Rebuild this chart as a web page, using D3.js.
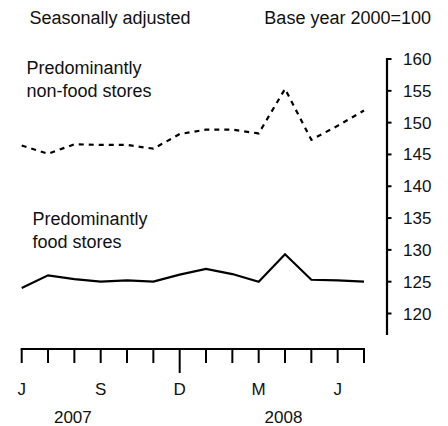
<!DOCTYPE html>
<html><head><meta charset="utf-8">
<script src="https://cdn.jsdelivr.net/npm/d3@7"></script>
<style>body{margin:0;background:#fff}svg{display:block}text{font-family:"Liberation Sans",Arial,sans-serif;fill:#111}</style>
</head><body>
<script>
const months = ["Jun 2007","Jul 2007","Aug 2007","Sep 2007","Oct 2007","Nov 2007","Dec 2007","Jan 2008","Feb 2008","Mar 2008","Apr 2008","May 2008","Jun 2008","Jul 2008"];
const monthLabels = ["J","","","S","","","D","","","M","","","J",""];
const nonFood = [146.4,145.1,146.6,146.5,146.5,145.9,148.2,148.9,148.9,148.3,155.3,147.3,149.5,151.9];
const food = [124.0,126.0,125.4,125.0,125.2,125.0,126.1,127.0,126.2,125.0,129.3,125.3,125.2,125.0];
const yTicks = [120,125,130,135,140,145,150,155,160];
const years = [{label:"2007", idx:2},{label:"2008", idx:10}];

const W=448,H=426;
const svg=d3.select("body").append("svg").attr("width",W).attr("height",H);
const x=d3.scaleLinear().domain([0,months.length-1]).range([21.7,364]);
const y=d3.scaleLinear().domain([120,160]).range([313.5,59]);

// titles
svg.append("text").attr("x",29.5).attr("y",24).attr("font-size",18).text("Seasonally adjusted");
svg.append("text").attr("x",431).attr("y",24).attr("font-size",18).attr("text-anchor","end").text("Base year 2000=100");

// right axis
const ya=svg.append("g").attr("transform","translate(387,0)");
ya.append("line").attr("x1",0).attr("x2",0).attr("y1",58).attr("y2",335).attr("stroke","#000").attr("stroke-width",2.2);
ya.selectAll("line.t").data(yTicks).join("line").attr("class","t")
  .attr("x1",0).attr("x2",4.5).attr("y1",d=>y(d)).attr("y2",d=>y(d)).attr("stroke","#000").attr("stroke-width",2);
ya.selectAll("text").data(yTicks).join("text").attr("x",16).attr("y",d=>y(d)+6).attr("font-size",17).text(d=>d);

// bottom axis
const xa=svg.append("g");
xa.append("line").attr("x1",x(0)-1).attr("x2",x(months.length-1)+1).attr("y1",349).attr("y2",349).attr("stroke","#000").attr("stroke-width",2.2);
xa.selectAll("line.t").data(months).join("line").attr("class","t")
  .attr("x1",(d,i)=>x(i)).attr("x2",(d,i)=>x(i)).attr("y1",349).attr("y2",(d,i)=>i===6?373:363).attr("stroke","#000").attr("stroke-width",2);
xa.selectAll("text.m").data(monthLabels).join("text").attr("class","m")
  .attr("x",(d,i)=>x(i)).attr("y",395).attr("font-size",17).attr("text-anchor","middle").text(d=>d);
xa.selectAll("text.yr").data(years).join("text").attr("class","yr")
  .attr("x",d=>x(d.idx)-1.5).attr("y",422.5).attr("font-size",17).attr("text-anchor","middle").text(d=>d.label);

// lines
const line=d3.line().x((d,i)=>x(i)).y(d=>y(d));
svg.append("path").datum(nonFood).attr("d",line).attr("fill","none").attr("stroke","#000").attr("stroke-width",2.2).attr("stroke-dasharray","5,5");
svg.append("path").datum(food).attr("d",line).attr("fill","none").attr("stroke","#000").attr("stroke-width",2.2);

// labels
const lab=(xx,yy,lines)=>{const t=svg.append("text").attr("font-size",18);
  lines.forEach((s,i)=>t.append("tspan").attr("x",xx).attr("y",yy+i*23.4).text(s));};
lab(26.5,73.5,["Predominantly","non-food stores"]);
lab(32.5,225,["Predominantly","food stores"]);
</script>
</body></html>
